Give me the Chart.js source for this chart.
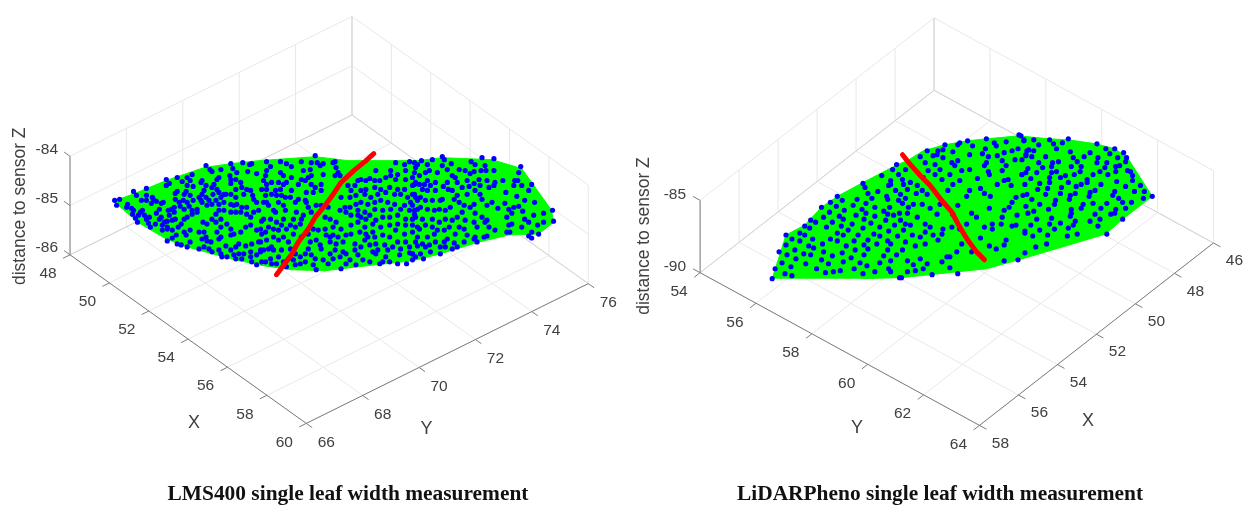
<!DOCTYPE html>
<html>
<head>
<meta charset="utf-8">
<title>Single leaf width measurement</title>
<script src="https://cdn.jsdelivr.net/npm/chart.js@4"></script>
<style>
    body { margin: 0; background: #fff; }
    canvas { position: absolute; top: 0; }
    #leftChart { left: 0; }
    #rightChart { left: 628px; }
</style>
</head>
<body>
<canvas id="leftChart" width="628" height="508"></canvas>
<canvas id="rightChart" width="624" height="508"></canvas>
<script>
// tick labels of both axes boxes
const leftTicksX = [48, 50, 52, 54, 56, 58, 60];
const leftTicksY = [66, 68, 70, 72, 74, 76];
const leftTicksZ = [-86, -85, -84];
const rightTicksX = [46, 48, 50, 52, 54, 56, 58];
const rightTicksY = [54, 56, 58, 60, 62, 64];
const rightTicksZ = [-90, -85];

const leftOutline = [[-195,224],[-175,231],[-141,245],[-103,258],[-76,262],[-48,265],[9,269],[42,265],[65,265],[112,265],[137,268],[187,266],[217,257],[247,215],[249,203],[234,191],[204,190],[174,183],[135,171],[107,164],[52,158],[19,154],[-15,155],[-43,159],[-76,166],[-120,178],[-141,186],[-170,203]];
const leftWidthLine = [[-30,150],[-15,170],[-8,183],[2,196],[9,208],[19,220],[27,231],[35,243],[49,256],[59,264],[68,272]];
const leftPoints = [
[-193,225],[-188,226],[-191,220],[-174,234],[-171,230],[-161,237],[-161,230],[-166,225],[-161,225],[-155,228],[-154,226],[-151,224],[-156,222],[-180,221],[-181,218],[-176,217],[-174,215],[-175,211],[-172,207],[-170,203],[-167,213],[-165,215],[-169,210],[-163,210],[-161,206],[-158,208],[-159,202],[-157,198],[-152,201],[-151,212],[-148,216],[-144,223],[-146,222],[-139,215],[-133,218],[-136,216],[-132,232],[-130,234],[-132,226],[-141,246],[-138,242],[-141,240],[-130,248],[-125,244],[-120,248],[-115,251],[-117,245],[-120,240],[-114,239],[-121,234],[-123,231],[-117,230],[-114,225],[-120,223],[-124,225],[-128,223],[-127,219],[-133,213],[-138,210],[-140,204],[-135,205],[-132,206],[-123,216],[-118,219],[-115,215],[-110,216],[-106,225],[-105,231],[-108,228],[-101,228],[-106,243],[-105,245],[-101,240],[-103,235],[-95,238],[-90,246],[-88,248],[-93,241],[-90,236],[-94,231],[-88,233],[-86,228],[-83,231],[-98,225],[-95,221],[-100,220],[-105,223],[-101,260],[-97,256],[-95,254],[-86,256],[-76,262],[-74,257],[-77,250],[-70,253],[-64,263],[-57,261],[-55,262],[-59,254],[-50,252],
[-76,246],[-71,246],[-66,243],[-76,242],[-71,236],[-65,238],[-60,236],[-63,231],[-56,235],[-54,230],[-76,231],[-81,231],[-71,228],[-76,221],[-83,223],[-88,221],[-91,225],[-73,220],[-70,221],[-65,218],[-60,218],[-53,226],[-50,223],[-60,211],[-56,208],[-53,213],[-48,215],[-66,213],[-71,213],[-76,213],[-83,215],[-88,215],[-91,211],[-95,206],[-100,201],[-104,203],[-110,213],[-115,211],[-120,208],[-123,206],[-126,201],[-129,198],[-135,195],[-140,196],[-145,195],[-143,203],[-146,208],[-148,206],[-145,200],[-140,198],[-131,190],[-135,187],[-140,184],[-130,181],[-126,180],[-120,178],[-117,183],[-121,190],[-123,193],[-117,195],[-108,193],[-103,193],[-101,188],[-105,186],[-90,193],[-86,198],[-91,203],[-86,206],[-80,201],[-76,196],[-73,191],[-66,193],[-61,198],[-56,200],[-50,195],[-46,196],[-76,190],[-86,188],[-88,186],[-100,184],[-96,183],[-103,178],[-108,176],[-98,176],[-95,173],[-88,175],[-81,179],[-76,175],[-71,178],[-68,181],[-61,179],[-55,181],[-48,183],[-46,175],[-56,173],[-63,171],[-68,171],[-73,170],[-80,168],[-86,171],[-85,168],[-65,166],[-56,168],[-50,170],[-55,163],[-50,160],[-45,163],[-71,166],
[-40,264],[-26,264],[-20,262],[-15,259],[-5,264],[-3,255],[4,256],[5,263],[9,270],[11,263],[14,260],[17,262],[27,263],[29,264],[30,258],[32,253],[29,250],[34,250],[17,251],[5,250],[2,248],[-5,246],[-15,248],[-23,250],[-26,253],[-36,259],[-40,255],[-41,250],[-43,245],[-35,243],[-28,243],[-26,236],[-23,241],[-20,243],[-15,235],[-8,241],[-1,245],[5,241],[9,238],[15,241],[15,235],[7,233],[0,233],[-8,226],[-1,225],[-11,223],[-21,228],[-25,230],[-28,223],[-35,231],[-40,236],[-41,230],[-43,223],[-40,223],[-38,220],[-33,215],[-31,213],[-23,220],[-21,215],[-23,206],[-25,200],[-30,203],[-33,196],[-43,206],[-45,204],[-45,191],[-40,185],[-33,188],[-28,185],[-23,188],[-18,183],[-13,191],[-6,201],[-5,206],[-10,213],[2,218],[-3,210],[0,223],[5,213],[10,220],[15,220],[22,218],[19,208],[24,206],[30,203],[34,215],[39,218],[35,228],[44,228],[42,240],[49,240],[52,245],[55,246],[60,245],[64,247],[69,245],[70,255],[85,255],[90,263],[99,261],[104,264],[109,263],[110,258],[100,255],[92,251],[85,250],[74,245],[80,248],[90,246],[100,246],[107,248],[109,241],[99,236],[92,236],[84,238],[75,236],[69,238],[60,236],[55,235],[45,235],[50,230],[59,231],[65,228],[72,231],[80,233],[89,231],[95,231],[102,228],[109,231],[112,225],[105,223],[99,220],[89,221],[82,223],[75,225],[69,223],[62,221],[55,223],[50,221],[44,218],[52,215],[59,213],[64,210],[60,206],[55,208],[52,210],[45,210],[40,213],[69,216],[77,215],[85,216],[95,216],[104,215],[109,215],[107,206],[100,206],[92,210],[84,208],[77,208],[70,205],[67,201],[59,198],[52,203],[45,200],[40,190],[32,188],[27,190],[24,188],[20,190],[12,195],[7,196],[2,191],[-5,188],[4,183],[14,180],[15,176],[24,183],[30,181],[37,183],[49,181],[60,191],[62,188],[69,188],[77,190],[84,188],[90,195],[99,191],[107,193],[112,198],[110,183],[100,183],[92,183],[87,178],[79,180],[70,181],[64,180],[55,178],[49,175],[40,171],[37,173],[29,175],[24,171],[27,166],[17,165],[9,166],[5,170],[-1,171],[-6,168],[-11,171],[-16,176],[-25,175],[-28,168],[-33,175],[-38,176],[-43,175],[-46,173],[-36,166],[-41,163],[-35,161],[-30,161],[-23,163],[-18,166],[-6,161],[-1,163],[7,160],[10,155],[35,156],[40,161],[50,160],[57,165],[64,163],[74,161],[77,163],[84,163],[92,161],[101,161],[107,171],[104,172],[94,170],[80,168],[70,171],[67,173],
[-40,241],[-45,236],[-31,235],[-30,230],[-16,228],[-13,206],[-16,200],[-36,206],[-38,198],[-28,195],[-20,196],[-11,198],[-41,193],[-46,183],[-35,178],[-13,165],[2,176],[10,185],[19,196],[27,198],[35,196],[45,191],[54,193],[67,193],[75,198],[84,200],[92,201],[100,200],[59,185],[72,175],[82,175],[95,176],[104,178],[107,165],[52,170],[44,165],[34,168],[22,161],[-11,160],[-20,158],
[112,261],[116,265],[122,261],[127,266],[137,269],[139,266],[146,262],[137,260],[142,256],[132,253],[124,255],[120,253],[114,250],[109,253],[154,256],[160,255],[165,252],[169,254],[166,264],[170,261],[177,268],[189,267],[180,260],[176,255],[181,255],[189,255],[214,253],[216,259],[227,241],[224,235],[210,245],[213,245],[209,240],[217,240],[198,245],[190,243],[189,240],[182,245],[174,246],[169,242],[164,239],[162,245],[150,248],[147,250],[152,243],[142,243],[138,239],[130,235],[125,240],[119,241],[114,241],[110,243],[107,240],[117,236],[122,235],[107,231],[110,228],[115,228],[120,225],[127,225],[135,225],[137,226],[143,236],[147,235],[152,230],[162,231],[170,235],[175,240],[175,231],[177,226],[184,238],[201,233],[212,229],[220,225],[230,223],[214,219],[209,218],[204,216],[200,222],[193,217],[187,223],[182,220],[169,221],[165,218],[159,220],[154,223],[149,226],[145,218],[140,215],[134,216],[129,215],[122,216],[115,218],[112,216],[107,220],[110,208],[117,206],[127,206],[134,203],[140,206],[147,205],[152,208],[160,205],[170,212],[177,208],[182,205],[180,203],[202,208],[207,212],[218,214],[229,210],[239,212],[248,215],[249,204],[239,203],[233,200],[224,203],[220,206],[217,198],[207,201],[204,200],[190,195],[184,198],[172,198],[169,203],[159,196],[154,198],[144,198],[132,195],[129,191],[120,200],[114,196],[107,200],[112,188],[117,181],[124,180],[139,183],[142,186],[150,191],[162,190],[170,188],[169,186],[179,188],[182,189],[202,193],[205,193],[227,193],[224,189],[227,187],[234,191],[172,183],[159,183],[152,178],[147,176],[149,182],[135,178],[135,171],[125,173],[120,178],[112,179],[115,171],[110,168],[107,171],[118,166],
[122,245],[130,243],[157,238],[157,213],[127,198],[139,195],[122,188],[130,183],[140,178],[109,211]
];

const rightOutline = [[-210,148],[-196,192],[-177,202],[-160,220],[-144,231],[-118,245],[-83,263],[-73,267],[-57,277],[-35,283],[-12,287],[7,289],[40,292],[70,289],[90,288],[118,284],[137,279],[150,270],[175,231],[145,208],[128,193],[40,167],[7,158],[-50,152],[-80,149],[-120,148]];
const rightWidthLine = [[-78,273],[-70,263],[-60,252],[-50,242],[-40,229],[-28,215],[-20,200],[-12,187],[-3,175],[5,167]];
const rightPoints = [
[-210,148],[-207,158],[-197,153],[-190,151],[-191,160],[-200,164],[-195,172],[-203,175],[-196,182],[-196,192],[-190,188],[-182,186],[-187,177],[-178,173],[-173,181],[-168,179],[-171,172],[-176,163],[-186,168],[-165,158],[-156,154],[-160,167],[-153,163],[-149,171],[-158,175],[-159,183],[-169,188],[-177,192],[-182,194],[-172,199],[-177,201],[-171,207],[-166,205],[-158,210],[-155,200],[-149,205],[-152,215],[-160,220],[-151,225],[-145,221],[-144,231],[-139,227],[-137,217],[-142,211],[-138,208],[-140,201],[-144,194],[-151,188],[-144,186],[-138,192],[-133,197],[-129,203],[-125,212],[-128,222],[-124,228],[-119,218],[-115,224],[-115,214],[-117,208],[-118,199],[-123,192],[-127,186],[-135,181],[-139,174],[-130,169],[-138,165],[-148,155],[-141,156],[-127,158],[-118,153],[-121,164],[-126,177],[-117,182],[-113,178],[-117,172],[-114,161],[-106,155],[-101,164],[-104,183],[-113,187],[-107,193],[-101,191],[-92,196],[-101,200],[-110,204],[-106,211],[-106,220],[-97,216],[-93,213],[-95,207],[-86,202],[-83,191],[-93,186],[-93,177],[-97,171],[-84,172],[-92,158],[-90,155],[-81,149],[-118,244],[-116,240],[-113,234],[-109,229],[-103,236],[-94,231],[-93,228],[-91,220],[-92,242],[-90,247],[-99,252],[-88,258],[-84,263],[-82,253],[-85,237],[-82,227],[-87,212],[-81,214],
[-75,258],[-60,271],[-55,265],[-53,277],[-47,272],[-42,277],[-43,273],[-35,283],[-37,278],[-27,276],[-22,283],[-20,285],[-12,287],[-7,282],[7,289],[6,279],[15,285],[17,282],[27,286],[33,277],[39,279],[40,293],[45,288],[48,277],[47,272],[36,268],[25,275],[23,267],[18,272],[9,271],[7,265],[3,274],[-10,273],[-22,267],[-28,265],[-37,270],[-45,263],[-52,257],[-40,258],[-30,253],[-25,262],[-18,257],[-10,258],[5,262],[9,256],[10,253],[23,257],[27,262],[43,253],[47,255],[-2,249],[-20,247],[-27,243],[-32,237],[-38,248],[-45,253],[-57,250],[-78,248],[-90,243],[-77,243],[-70,245],[-73,238],[-63,242],[-64,234],[-58,237],[-53,233],[-80,233],[-75,229],[-78,224],[-72,220],[-67,223],[-58,223],[-50,219],[-40,223],[-22,222],[-13,231],[-10,237],[1,239],[5,234],[11,231],[18,243],[25,247],[29,248],[32,242],[48,233],[37,230],[33,225],[30,220],[25,217],[10,219],[-8,214],[-3,210],[-27,213],[-43,213],[-55,203],[-63,210],[-73,214],[-80,207],[-75,203],[-70,202],[-77,197],[-90,183],[-75,185],[-65,181],[-60,190],[-55,195],[-50,200],[-37,198],[-28,200],[-20,198],[-13,203],[5,200],[13,203],[13,198],[23,210],[38,212],[37,202],[33,201],[22,203],[46,194],[27,187],[17,178],[25,182],[10,181],[1,189],[-8,175],[-18,183],[-23,175],[-33,170],[-38,193],[-42,187],[-47,192],[-55,183],[-68,192],[-78,177],[-90,166],[-73,166],[-67,162],[-60,168],[-53,163],[-38,165],[-30,159],[-48,152],[-57,158],[-65,156],[-73,155],[-79,149],[-22,153],[25,166],[39,167],[46,174],[-30,170],
[42,292],[45,287],[55,288],[60,283],[71,288],[75,284],[84,285],[90,289],[92,276],[78,279],[67,271],[55,277],[50,278],[47,273],[43,268],[53,271],[60,265],[64,260],[74,265],[80,266],[73,261],[78,256],[73,255],[95,270],[106,271],[99,266],[103,261],[93,261],[102,256],[96,253],[87,252],[82,250],[71,250],[71,245],[61,244],[52,249],[43,253],[49,259],[58,255],[112,275],[119,284],[128,279],[132,274],[137,279],[146,275],[149,270],[140,270],[148,266],[120,270],[119,265],[129,265],[127,260],[142,262],[138,261],[150,257],[153,256],[155,252],[155,247],[138,256],[130,253],[122,256],[115,253],[109,248],[109,245],[103,243],[98,241],[90,245],[83,240],[69,239],[59,238],[46,243],[44,232],[53,228],[67,233],[82,234],[97,234],[92,232],[91,228],[77,227],[76,223],[61,223],[55,216],[49,214],[70,218],[58,208],[73,209],[82,204],[71,203],[52,202],[76,198],[61,197],[46,196],[54,191],[69,192],[89,191],[99,193],[90,199],[95,202],[97,206],[93,218],[93,214],[92,211],[103,219],[105,223],[115,224],[112,235],[111,231],[117,237],[123,243],[139,246],[148,241],[163,242],[167,236],[157,236],[137,236],[135,232],[141,229],[145,225],[154,225],[166,229],[175,231],[148,219],[138,218],[137,214],[133,213],[129,224],[123,219],[117,213],[122,208],[120,201],[112,206],[145,208],[129,193],[57,180],[68,183],[47,221]
];

const tickColor = '#404040';
const sansFont = '"Liberation Sans", Arial, sans-serif';

function buildPanel(canvasId, cfg) {
    // orthographic view of the data box, same idea as the camera of a 3D plot
    function project(x, y, z) {
        return {
            x: (x - cfg.frontX) * cfg.hPerX + (y - cfg.frontY) * cfg.hPerY,
            y: (x - cfg.frontX) * cfg.vPerX + (y - cfg.frontY) * cfg.vPerY + (z - cfg.zTicks[0]) * cfg.vPerZ
        };
    }
    const gap = { x: NaN, y: NaN };
    const zLow = cfg.zTicks[0];
    const zHigh = cfg.zTicks[cfg.zTicks.length - 1];
    const grid = [];
    const edges = [];
    const axes = [];
    function addLine(list, a, b) {
        list.push(project(a[0], a[1], a[2]), project(b[0], b[1], b[2]), gap);
    }

    cfg.xTicks.forEach(function (t) {
        addLine(grid, [t, cfg.frontY, zLow], [t, cfg.backY, zLow]);
        addLine(grid, [t, cfg.backY, zLow], [t, cfg.backY, zHigh]);
        addLine(axes, [t, cfg.frontY, zLow], [t, cfg.frontY + cfg.xStub, zLow]);
    });
    cfg.yTicks.forEach(function (t) {
        addLine(grid, [cfg.frontX, t, zLow], [cfg.backX, t, zLow]);
        addLine(grid, [cfg.backX, t, zLow], [cfg.backX, t, zHigh]);
        addLine(axes, [cfg.frontX, t, zLow], [cfg.frontX + cfg.yStub, t, zLow]);
    });
    cfg.zTicks.forEach(function (t) {
        addLine(grid, [cfg.zAt[0], cfg.zAt[1], t], [cfg.backX, cfg.backY, t]);
        addLine(grid, [cfg.backX, cfg.backY, t], [cfg.zFar[0], cfg.zFar[1], t]);
        addLine(axes, [cfg.zAt[0], cfg.zAt[1], t], [cfg.zAt[0] + cfg.zStub[0], cfg.zAt[1] + cfg.zStub[1], t]);
    });
    // back edges of the box are a bit darker than the grid
    addLine(edges, [cfg.backX, cfg.backY, zLow], [cfg.backX, cfg.backY, zHigh]);
    addLine(edges, [cfg.backX, cfg.backY, zLow], [cfg.zAt[0], cfg.zAt[1], zLow]);
    addLine(edges, [cfg.backX, cfg.backY, zLow], [cfg.zFar[0], cfg.zFar[1], zLow]);
    addLine(axes, [cfg.backX, cfg.frontY, zLow], [cfg.frontX, cfg.frontY, zLow]);
    addLine(axes, [cfg.frontX, cfg.frontY, zLow], [cfg.frontX, cfg.backY, zLow]);
    addLine(axes, [cfg.zAt[0], cfg.zAt[1], zLow], [cfg.zAt[0], cfg.zAt[1], zHigh]);

    const toXY = function (p) { return { x: p[0], y: p[1] }; };

    const labelPlugin = {
        id: 'boxLabels',
        afterDraw: function (chart) {
            const c = chart.ctx;
            const sx = chart.scales.x;
            const sy = chart.scales.y;
            function put(view, dx, dy, text, align) {
                c.textAlign = align;
                c.fillText(text, sx.getPixelForValue(view.x) + dx, sy.getPixelForValue(view.y) + dy);
            }
            c.save();
            c.fillStyle = tickColor;
            c.textBaseline = 'middle';
            c.font = '15.5px ' + sansFont;
            cfg.xTicks.forEach(function (t) {
                put(project(t, cfg.frontY, zLow), cfg.xLabel[0], cfg.xLabel[1], String(t), 'center');
            });
            cfg.yTicks.forEach(function (t) {
                put(project(cfg.frontX, t, zLow), cfg.yLabel[0], cfg.yLabel[1], String(t), 'center');
            });
            cfg.zTicks.forEach(function (t) {
                put(project(cfg.zAt[0], cfg.zAt[1], t), cfg.zLabel[0], cfg.zLabel[1], String(t), 'right');
            });
            c.font = '18px ' + sansFont;
            put({ x: cfg.nameX[0], y: cfg.nameX[1] }, 0, 0, 'X', 'center');
            put({ x: cfg.nameY[0], y: cfg.nameY[1] }, 0, 0, 'Y', 'center');
            // z axis name reads upwards
            c.font = '17.5px ' + sansFont;
            c.translate(sx.getPixelForValue(cfg.nameZ[0]), sy.getPixelForValue(cfg.nameZ[1]));
            c.rotate(-Math.PI / 2);
            c.textAlign = 'center';
            c.fillText('distance to sensor Z', 0, 0);
            c.restore();
        }
    };

    return new Chart(document.getElementById(canvasId), {
        type: 'scatter',
        data: {
            datasets: [
                { data: cfg.widthLine.map(toXY), showLine: true, borderColor: '#ff0000', borderWidth: 5, borderCapStyle: 'round', borderJoinStyle: 'round', pointRadius: 0, order: 0 },
                { data: cfg.points.map(toXY), pointRadius: 2.6, pointBorderWidth: 0, pointBackgroundColor: '#0000ff', order: 1 },
                { data: cfg.outline.map(toXY), showLine: true, borderColor: '#00ff00', borderWidth: 1, backgroundColor: '#00ff00', fill: 'shape', pointRadius: 0, order: 2 },
                { data: axes, showLine: true, borderColor: '#7c7c7c', borderWidth: 1, pointRadius: 0, spanGaps: false, clip: false, order: 3 },
                { data: edges, showLine: true, borderColor: '#d4d4d4', borderWidth: 1, pointRadius: 0, spanGaps: false, clip: false, order: 4 },
                { data: grid, showLine: true, borderColor: '#e8e8e8', borderWidth: 1, pointRadius: 0, spanGaps: false, clip: false, order: 5 }
            ]
        },
        options: {
            responsive: false,
            animation: false,
            layout: { padding: { left: cfg.padLeft, right: 0, top: 0, bottom: 0 } },
            scales: {
                x: { type: 'linear', display: false, min: cfg.hRange[0], max: cfg.hRange[1] },
                y: { type: 'linear', display: false, min: cfg.vRange[0], max: cfg.vRange[1] }
            },
            plugins: {
                legend: { display: false },
                tooltip: { enabled: false },
                title: {
                    display: true,
                    position: 'bottom',
                    text: cfg.title,
                    color: '#111111',
                    padding: { top: 14.1, bottom: 0.2 },
                    font: { family: '"Liberation Serif", "Times New Roman", serif', size: 21.4, weight: 'bold', lineHeight: 1.2 }
                }
            }
        },
        plugins: [labelPlugin]
    });
}

buildPanel('leftChart', {
    title: 'LMS400 single leaf width measurement',
    xTicks: leftTicksX, yTicks: leftTicksY, zTicks: leftTicksZ,
    outline: leftOutline, widthLine: leftWidthLine, points: leftPoints,
    frontX: 60, backX: 48, frontY: 66, backY: 76,
    hPerX: 19.83, vPerX: -14.17, hPerY: 28.4, vPerY: 14.1, vPerZ: 49.7,
    zAt: [48, 66], zFar: [60, 76],
    xStub: -0.25, yStub: 0.3, zStub: [-0.3, 0],
    xLabel: [-22, 19], yLabel: [20, 19.5], zLabel: [-12, -7],
    nameX: [-113, 0], nameY: [121, -6], nameZ: [-288, 219],
    padLeft: 68, hRange: [-240, 320], vRange: [-45, 423]
});

buildPanel('rightChart', {
    title: 'LiDARPheno single leaf width measurement',
    xTicks: rightTicksX, yTicks: rightTicksY, zTicks: rightTicksZ,
    outline: rightOutline, widthLine: rightWidthLine, points: rightPoints,
    frontX: 58, backX: 46, frontY: 64, backY: 54,
    hPerX: -19.75, vPerX: -15.33, hPerY: 28.3, vPerY: -15.4, vPerZ: 14.6,
    zAt: [58, 54], zFar: [46, 64],
    xStub: 0.25, yStub: 0.3, zStub: [0, -0.25],
    xLabel: [21, 18], yLabel: [-21, 19], zLabel: [-14, -6],
    nameX: [110, 4], nameY: [-124, -3], nameZ: [-340, 191],
    padLeft: 0, hRange: [-352, 272], vRange: [-43, 425]
});
</script>
</body>
</html>
